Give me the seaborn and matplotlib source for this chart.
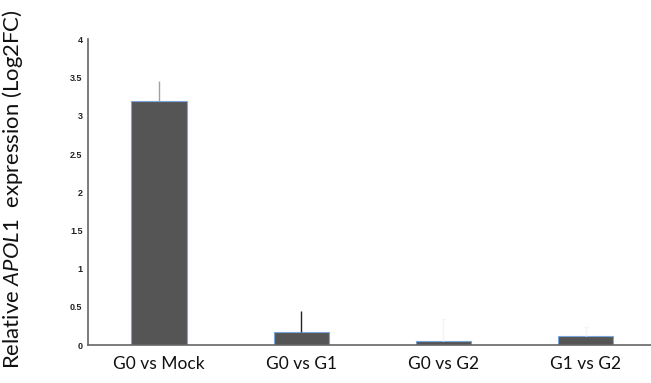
import matplotlib
matplotlib.use("Agg")
import matplotlib.pyplot as plt
import seaborn as sns
import numpy as np

# values
comparisons = ["G0 vs Mock", "G0 vs G1", "G0 vs G2", "G1 vs G2"]
log2fc = [3.20, 0.17, 0.055, 0.12]
err_upper = [0.25, 0.27, 0.28, 0.12]
yticks = [0, 0.5, 1, 1.5, 2, 2.5, 3, 3.5, 4]
ytick_labels = ["0", "0.5", "1", "1.5", "2", "2.5", "3", "3.5", "4"]

sns.set_style("white")
plt.rcParams["font.family"] = ["Lato", "DejaVu Sans"]
plt.rcParams["mathtext.fontset"] = "custom"
plt.rcParams["mathtext.it"] = "Lato:italic"
plt.rcParams["mathtext.rm"] = "Lato"

fig = plt.figure(figsize=(6.51, 3.83), dpi=100)
ax = fig.add_axes([0.1352, 0.0992, 0.8648, 0.7977])

sns.barplot(x=comparisons, y=log2fc, color="#555555", saturation=1,
            width=0.39, edgecolor="#7aa6dc", linewidth=0.8,
            errorbar=None, ax=ax)

# upper-only error bars; in the original the last two are barely visible,
# only their top end shows
err_colors = ["#a0a0a0", "#222222", "#f4f4f4", "#f4f4f4"]
cap_colors = [None, None, "#bbbbbb", "#333333"]
for i, (v, e) in enumerate(zip(log2fc, err_upper)):
    _, caps, _ = ax.errorbar(i, v, yerr=[[0], [e]], fmt="none",
                             ecolor=err_colors[i], elinewidth=1.0,
                             capsize=1.2, capthick=1.0, zorder=1)
    for c in caps:
        c.set_visible(False)
    if cap_colors[i] is not None:
        # caps are ordered lower, upper
        caps[-1].set_visible(True)
        caps[-1].set_color(cap_colors[i])

ax.set_ylim(0, 4)
ax.set_xlim(-0.5, 3.46)
ax.set_yticks(yticks)
ax.set_yticklabels(ytick_labels, fontsize=6.5, fontweight="bold",
                   family="Liberation Sans", color="#222222")
ax.set_xticks(range(len(comparisons)))
ax.set_xticklabels(comparisons, fontsize=12.5, color="#111111")
ax.set_xticks([0.5, 1.5, 2.5], minor=True)
ax.tick_params(axis="x", which="major", length=0, pad=8)
ax.tick_params(axis="x", which="minor", length=3, width=1, color="#555555",
               direction="out")
ax.tick_params(axis="y", length=3, width=1, color="#555555", direction="out", pad=1)

for side in ["top", "right"]:
    ax.spines[side].set_visible(False)
for side in ["left", "bottom"]:
    ax.spines[side].set_color("#666666")
    ax.spines[side].set_linewidth(1.2)

fig.text(0.019, 0.506, r"Relative $\mathit{APOL1}$  expression (Log2FC)",
         rotation=90, va="center", ha="center", fontsize=15.9, color="#111111")

fig.savefig("out.png", dpi=100)
